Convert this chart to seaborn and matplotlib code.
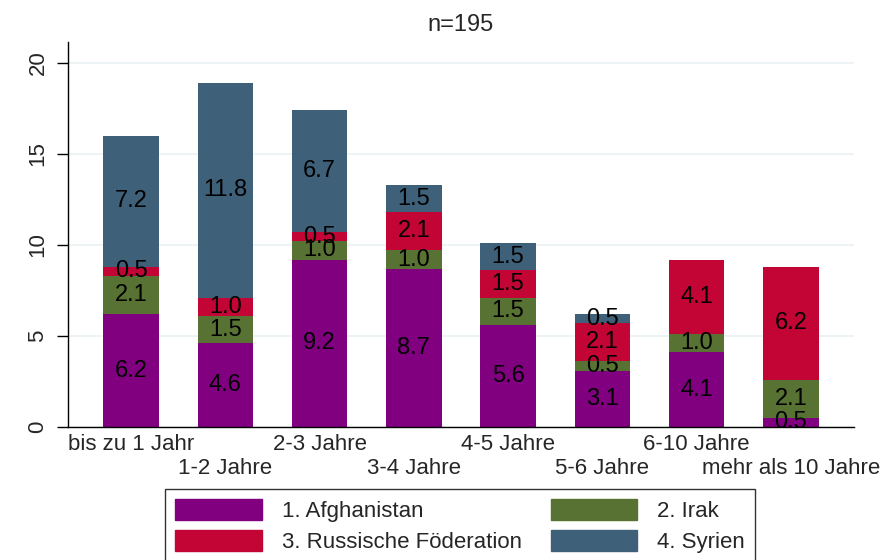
import matplotlib
matplotlib.use("Agg")
import matplotlib.pyplot as plt
import matplotlib.patches as mpatches
import seaborn as sns
import pandas as pd
import numpy as np

categories = ["bis zu 1 Jahr", "1-2 Jahre", "2-3 Jahre", "3-4 Jahre",
              "4-5 Jahre", "5-6 Jahre", "6-10 Jahre", "mehr als 10 Jahre"]
afghanistan = [6.2, 4.6, 9.2, 8.7, 5.6, 3.1, 4.1, 0.5]
irak = [2.1, 1.5, 1.0, 1.0, 1.5, 0.5, 1.0, 2.1]
russland = [0.5, 1.0, 0.5, 2.1, 1.5, 2.1, 4.1, 6.2]
syrien = [7.2, 11.8, 6.7, 1.5, 1.5, 0.5, 0.0, 0.0]
series_names = ["1. Afghanistan", "2. Irak", "3. Russische Föderation", "4. Syrien"]
colors = ["#800080", "#577232", "#C20535", "#3F6079"]
title = "n=195"

sns.set_theme(style="white")
plt.rcParams['font.family'] = ['Liberation Sans', 'DejaVu Sans']

FS = 16
fig = plt.figure(figsize=(8.84, 5.6), dpi=100)
ax = fig.add_axes([68/884, 1-427/560, (854-68)/884, (427-42)/560])

df = pd.DataFrame({"cat": categories, "a": afghanistan, "i": irak, "r": russland, "s": syrien})
bottom = np.zeros(len(categories))
for col, name, c in zip(["a", "i", "r", "s"], series_names, colors):
    vals = df[col].values
    sns.barplot(x=df["cat"], y=vals, bottom=bottom, color=c, width=0.59,
                saturation=1, ax=ax, linewidth=0, label=name, order=categories)
    cont = ax.containers[-1]
    labels = [f"{v:.1f}" if v > 0 else "" for v in vals]
    ax.bar_label(cont, labels=labels, label_type="center", fontsize=17, color="black")
    bottom = bottom + vals

ax.set_xlim(-0.67, 7.67)
ax.set_ylim(0, 21.15)
ax.set_yticks([0, 5, 10, 15, 20])
ax.set_yticklabels(["0", "5", "10", "15", "20"], rotation=90, va="center", fontsize=FS)
ax.yaxis.grid(True, color="#EAF2F3", linewidth=1.2)
ax.set_axisbelow(True)
ax.tick_params(axis="y", length=8, width=1, color="black", left=True, pad=6)
ax.tick_params(axis="x", length=0, pad=5)
xt = [c if i % 2 == 0 else "\n" + c for i, c in enumerate(categories)]
ax.set_xticks(range(len(categories)))
ax.set_xticklabels(xt, fontsize=FS, linespacing=1.2)
ax.set_xlabel("")
ax.set_ylabel("")
for s in ["top", "right"]:
    ax.spines[s].set_visible(False)
for s in ["left", "bottom"]:
    ax.spines[s].set_color("black")
    ax.spines[s].set_linewidth(1)
ax.set_title(title, fontsize=FS + 1, pad=8)
if ax.get_legend():
    ax.get_legend().remove()

order = [0, 2, 1, 3]
hs = [mpatches.Patch(color=colors[k], label=series_names[k]) for k in order]
leg = fig.legend(handles=hs, loc="upper left", bbox_to_anchor=(165/884, 1-489/560),
                 ncol=2, fontsize=FS, frameon=True, fancybox=False, edgecolor="black",
                 handlelength=3.9, handleheight=1.1, columnspacing=1.3, handletextpad=0.9,
                 borderpad=0.45, labelspacing=0.35, borderaxespad=0)
leg.get_frame().set_linewidth(1)

fig.savefig("out.png", dpi=100, facecolor="white")
